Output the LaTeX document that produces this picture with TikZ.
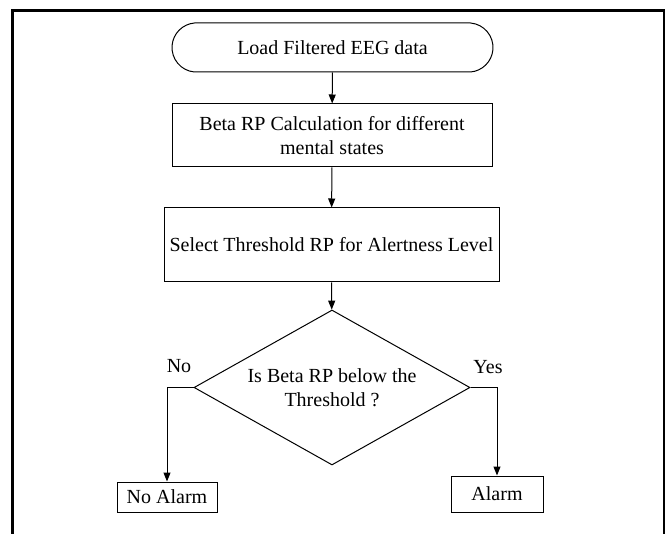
\documentclass[tikz,border=0pt]{standalone}
\usepackage{fontspec}
\setmainfont{Liberation Serif}
\usetikzlibrary{shapes.geometric,shapes.misc,arrows.meta}
\begin{document}
\begin{tikzpicture}[x=1pt,y=-1pt,
  every node/.style={font=\fontsize{20}{24}\selectfont},
  box/.style={draw,line width=1pt,rectangle,inner sep=0pt,align=center},
  term/.style={draw,line width=1pt,rounded rectangle,rounded rectangle arc length=170,inner sep=0pt},
  dec/.style={draw,line width=1pt,diamond,inner sep=0pt,align=center,shape aspect=1.78},
  arr/.style={line width=1pt,-{Triangle[length=9pt,width=7pt]}},
  lbl/.style={inner sep=0pt}]
\useasboundingbox (0,0) rectangle (666,534);
\draw[line width=2.2pt] (12.5,540) -- (12.5,10.5) -- (664,10.5) -- (664,540);
\node[term,minimum width=321pt,minimum height=49pt] (load) at (332.5,47.5) {Load Filtered EEG data};
\node[box,minimum width=320pt,minimum height=63pt] (calc) at (332,135.5) {Beta RP Calculation for different\\mental states};
\node[box,minimum width=335pt,minimum height=74pt] (sel) at (331.5,245) {Select Threshold RP for Alertness Level};
\node[dec,minimum width=276pt,minimum height=155pt] (dia) at (332,387.5) {Is Beta RP below the\\Threshold ?};
\node[box,minimum width=100pt,minimum height=30pt] (no) at (167,497) {No Alarm};
\node[box,minimum width=92pt,minimum height=36pt] (yes) at (497,494) {Alarm};
\node[lbl] (nolbl) at (179,366) {No};
\node[lbl] (yeslbl) at (488,367) {Yes};
\draw[arr] (load) -- (calc);
\draw[arr] (calc) -- (sel);
\draw[arr] (sel) -- (dia);
\draw[arr] (dia.west) -| (no.north);
\draw[arr] (dia.east) -| (yes.north);
\end{tikzpicture}
\end{document}
